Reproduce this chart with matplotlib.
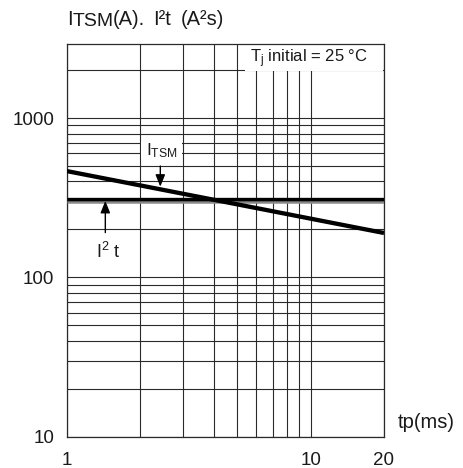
import matplotlib
matplotlib.use("Agg")
import matplotlib.pyplot as plt
import matplotlib.patheffects as pe
from matplotlib.patches import Rectangle
from matplotlib.ticker import LogLocator, NullFormatter, FixedLocator, FixedFormatter

plt.rcParams['font.family'] = ['Liberation Sans', 'DejaVu Sans']
plt.rcParams['mathtext.fontset'] = 'custom'
plt.rcParams['mathtext.rm'] = 'Liberation Sans'
plt.rcParams['mathtext.it'] = 'Liberation Sans'
plt.rcParams['mathtext.default'] = 'regular'

# data
tp = [1, 20]
itsm = [465, 190]
i2t = [310, 310]
x_ticks = [1, 10, 20]
x_tick_labels = ['1', '10', '20']
y_ticks = [10, 100, 1000]
y_tick_labels = ['10', '100', '1000']

TXT = '#1a1a1a'
GRID = '#2a2a2a'
W, H = 463, 468

fig = plt.figure(figsize=(4.63, 4.68), dpi=100)
ax = fig.add_axes([66.7 / W, 1 - 436.7 / H, (384 - 66.7) / W, (436.7 - 43.7) / H])
ax.set_xscale('log')
ax.set_yscale('log')
ax.set_xlim(1, 20)
ax.set_ylim(10, 2930)

ax.xaxis.set_major_locator(FixedLocator(x_ticks))
ax.xaxis.set_major_formatter(FixedFormatter(x_tick_labels))
ax.xaxis.set_minor_locator(LogLocator(base=10, subs=range(2, 10)))
ax.xaxis.set_minor_formatter(NullFormatter())
ax.yaxis.set_major_locator(FixedLocator(y_ticks))
ax.yaxis.set_major_formatter(FixedFormatter(y_tick_labels))
ax.yaxis.set_minor_locator(LogLocator(base=10, subs=range(2, 10)))
ax.yaxis.set_minor_formatter(NullFormatter())

ax.grid(True, which='both', color=GRID, linewidth=0.8)
ax.set_axisbelow(True)
ax.tick_params(which='both', length=0)
ax.tick_params(axis='x', pad=11, labelsize=13.5, labelcolor=TXT)
ax.tick_params(axis='y', pad=9, labelsize=13.5, labelcolor=TXT)
for s in ax.spines.values():
    s.set_color(GRID)
    s.set_linewidth(0.9)

# white boxes behind labels
ax.add_patch(Rectangle((0.562, 0.9305), 0.435, 0.065, transform=ax.transAxes,
                       facecolor='white', edgecolor='none', zorder=1.5))
ax.add_patch(Rectangle((0.234, 0.709), 0.13, 0.041, transform=ax.transAxes,
                       facecolor='white', edgecolor='none', zorder=1.5))

# lines
ax.plot(tp, i2t, color='black', linewidth=2.4, solid_capstyle='butt', zorder=3,
        path_effects=[pe.Stroke(linewidth=1.8, foreground='#8a8a8a', offset=(0, -2.2)),
                      pe.Normal()])
ax.plot(tp, itsm, color='black', linewidth=3.1, solid_capstyle='butt', zorder=4)

# annotations
ax.text(0.765, 0.961, r'T$_{j}$ initial = 25 °C', transform=ax.transAxes,
        ha='center', va='center', fontsize=12, color=TXT, zorder=5)
ax.text(2.46, 621, r'I$_{TSM}$', ha='center', va='center', fontsize=12.5,
        color=TXT, zorder=5)
ax.annotate('', xy=(2.42, 371), xytext=(2.42, 500),
            arrowprops=dict(arrowstyle='-|>,head_length=0.72,head_width=0.29',
                            color='black', lw=1.0, mutation_scale=10,
                            shrinkA=0, shrinkB=0), zorder=5)
ax.annotate('', xy=(1.44, 302), xytext=(1.44, 191),
            arrowprops=dict(arrowstyle='-|>,head_length=0.72,head_width=0.29',
                            color='black', lw=1.0, mutation_scale=10,
                            shrinkA=0, shrinkB=0), zorder=5)
ax.text(1.485, 144, r'I$^{2}$ t', ha='center', va='center', fontsize=13,
        color=TXT, zorder=5)

# axis titles
fig.text(398 / W, 1 - 423 / H, 'tp(ms)', ha='left', va='center', fontsize=14.5, color=TXT)
title_pieces = [('I', 67.5, 19.2, 14.5), ('TSM', 73.0, 21.5, 14.0),
                ('(A).', 113.0, 19.2, 14.5), ('I²t', 153.0, 19.2, 14.5),
                ('(A²s)', 181.0, 19.2, 14.5)]
for txt, px, py, fs in title_pieces:
    fig.text(px / W, 1 - py / H, txt, ha='left', va='center', fontsize=fs, color=TXT)

fig.savefig('out.png', dpi=100, facecolor='white')
